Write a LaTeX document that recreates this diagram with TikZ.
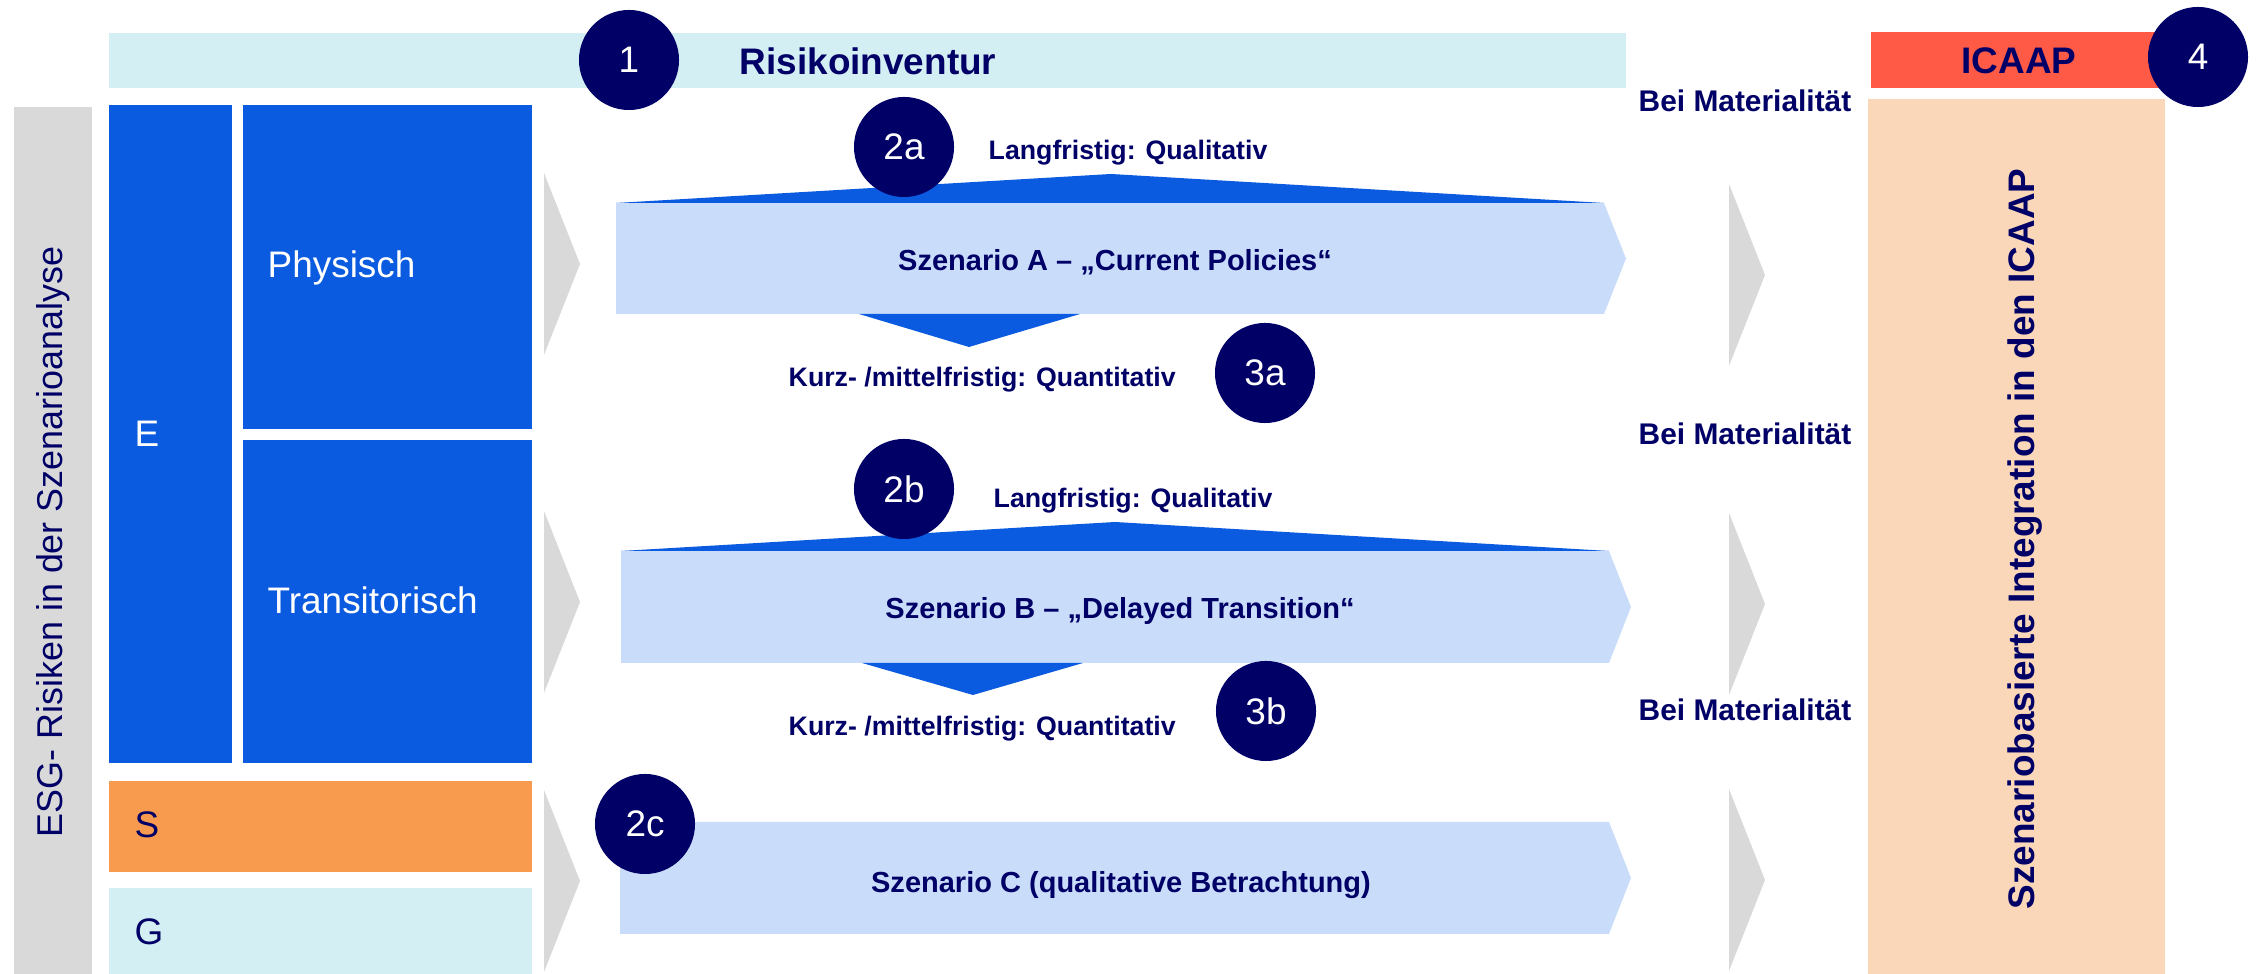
\documentclass[tikz,border=0pt]{standalone}
\usepackage{fontspec}
\setmainfont{Liberation Sans}
\usetikzlibrary{positioning}
\definecolor{navy}{HTML}{000066}
\definecolor{eblue}{HTML}{0B5BE0}
\definecolor{paleblue}{HTML}{C9DDFA}
\definecolor{palecyan}{HTML}{D3EFF4}
\definecolor{sorange}{HTML}{F99B4F}
\definecolor{chevgrey}{HTML}{D9D9D9}
\definecolor{icaapred}{HTML}{FF5A46}
\definecolor{peach}{HTML}{FAD7B8}
\def\chev(#1,#2){\fill[chevgrey] (#1,#2-91) -- (#1+36,#2) -- (#1,#2+91) -- cycle;}
\def\scenbody(#1,#2)(#3,#4){\fill[paleblue] (#1,#2) -- (#3,#2) -- (#3+22,{(#2+#4)/2}) -- (#3,#4) -- (#1,#4) -- cycle;}
\tikzset{
  numdot/.style={circle, fill=navy, text=white, minimum size=1cm, inner sep=0pt, font=\fontsize{10.5}{12}\selectfont},
  lbl/.style={inner sep=0pt, anchor=mid west, font=\fontsize{10.5}{12}\selectfont},
  hint/.style={inner sep=0pt, anchor=mid west, text=navy, font=\bfseries\fontsize{7.6}{9}\selectfont},
  scentext/.style={inner sep=0pt, anchor=mid, text=navy, font=\bfseries\fontsize{8.25}{10}\selectfont},
  matlbl/.style={inner sep=0pt, anchor=mid west, text=navy, font=\bfseries\fontsize{8.5}{10}\selectfont},
}

\begin{document}
\begin{tikzpicture}[x=0.01cm, y=-0.01cm]
		%%%%% START %%%%%
		\useasboundingbox (0,0) rectangle (2257,974);
		
		% ESG side
		\fill[chevgrey] (14,107) rectangle (92,974);
		\node[rotate=90, inner sep=0pt, text=navy, font=\fontsize{10.2}{12}\selectfont] (esg) at (53,542) {ESG- Risiken in der Szenarioanalyse};
		
		\fill[eblue] (109,105) rectangle (232,763);
		\fill[eblue] (243,105) rectangle (532,429);
		\fill[eblue] (243,440) rectangle (532,763);
		\fill[sorange] (109,781) rectangle (532,872);
		\fill[palecyan] (109,888) rectangle (532,974);
		
		\node[lbl, text=white] (ebox) at (134,437) {E};
		\node[lbl, text=white] (phys) at (267,268) {Physisch};
		\node[lbl, text=white] (trans) at (267,604) {Transitorisch};
		\node[lbl, text=navy] (sbox) at (134,828) {S};
		\node[lbl, text=navy] (gbox) at (134,935) {G};
		
		\foreach \cy in {264,602,881} {\chev(544,\cy)}
		\foreach \cy in {275,604,880} {\chev(1729,\cy)}
		
		% Risikoinventur
		\fill[palecyan] (109,33) rectangle (1626,88);
		\node[inner sep=0pt, text=navy, font=\bfseries\fontsize{10.5}{12}\selectfont] (inv) at (868,61) {Risikoinventur};
		
		% Szenario A
		\scenbody(616,203)(1604,314)
		\fill[eblue] (616,203) -- (1111,174) -- (1604,203) -- cycle;
		\fill[eblue] (859,314) -- (969,347) -- (1080,314) -- cycle;
		\node[scentext] (scena) at (1115,261) {Szenario A – „Current Policies“};
		\node[hint] (langa) at (988,150) {Langfristig: Qualitativ};
		\node[hint] (kurza) at (788,377) {Kurz- /mittelfristig: Quantitativ};
		
		% Szenario B
		\scenbody(621,551)(1609,663)
		\fill[eblue] (621,551) -- (1115,522) -- (1609,551) -- cycle;
		\fill[eblue] (862,663) -- (973,695) -- (1083,663) -- cycle;
		\node[scentext] (scenb) at (1120,609) {Szenario B – „Delayed Transition“};
		\node[hint] (langb) at (993,498) {Langfristig: Qualitativ};
		\node[hint] (kurzb) at (788,726) {Kurz- /mittelfristig: Quantitativ};
		
		% Szenario C
		\scenbody(620,822)(1609,934)
		\node[scentext] (scenc) at (1121,883) {Szenario C (qualitative Betrachtung)};
		
		% Materialitaet
		\node[matlbl] (mat1) at (1638,102) {Bei Materialität};
		\node[matlbl] (mat2) at (1638,435) {Bei Materialität};
		\node[matlbl] (mat3) at (1638,711) {Bei Materialität};
		
		% ICAAP
		\fill[icaapred] (1871,32) rectangle (2170,88);
		\node[inner sep=0pt, text=navy, font=\bfseries\fontsize{10.5}{12}\selectfont] (icaap) at (2019,61) {ICAAP};
		\fill[peach] (1868,99) rectangle (2165,974);
		\node[rotate=90, inner sep=0pt, text=navy, font=\bfseries\fontsize{10.5}{12}\selectfont] (integ) at (2025,539) {Szenariobasierte Integration in den ICAAP};
		
		% step numbers
		\node[numdot] (n1) at (629,60) {1};
		\node[numdot] (n2a) at (904,147) {2a};
		\node[numdot] (n3a) at (1265,373) {3a};
		\node[numdot] (n2b) at (904,489) {2b};
		\node[numdot] (n3b) at (1266,711) {3b};
		\node[numdot] (n2c) at (645,824) {2c};
		\node[numdot] (n4) at (2198,57) {4};
		
		%%%%% END %%%%%
\end{tikzpicture}
\end{document}
